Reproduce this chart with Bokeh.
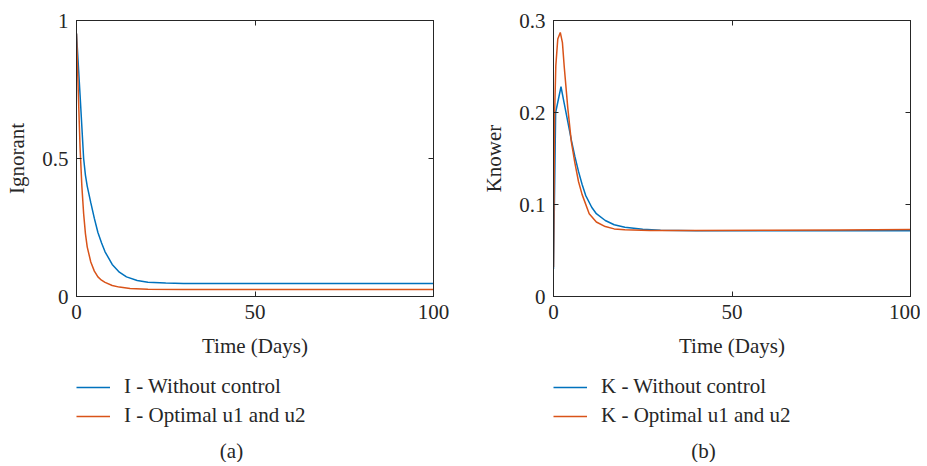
from bokeh.plotting import figure
from bokeh.models import Range1d, FixedTicker, LinearAxis, Legend, LegendItem, Label
from bokeh.layouts import row, column
from bokeh.embed import file_html
from bokeh.resources import INLINE

# ---- data ----
t_I_wo = [0, 1, 2, 2.5, 3, 4, 5, 6, 7, 8, 10, 12, 14, 17, 20, 25, 30, 40, 60, 80, 100]
I_wo = [0.953, 0.73, 0.50, 0.44, 0.40, 0.34, 0.283, 0.232, 0.195, 0.162, 0.116, 0.088, 0.071,
        0.058, 0.052, 0.049, 0.047, 0.047, 0.047, 0.047, 0.047]

t_I_opt = [0, 0.5, 1, 1.5, 2, 2.5, 3, 4, 5, 6, 7, 8, 10, 12, 15, 20, 30, 40, 60, 80, 100]
I_opt = [0.953, 0.74, 0.54, 0.40, 0.30, 0.228, 0.18, 0.125, 0.092, 0.071, 0.059, 0.051, 0.040,
         0.034, 0.029, 0.026, 0.025, 0.025, 0.025, 0.025, 0.025]

t_K_wo = [0, 0.6, 2.1, 3, 4, 5, 6, 7, 8, 9, 10.7, 12, 14.5, 17, 20, 25, 30, 40, 60, 80, 100]
K_wo = [0.03, 0.20, 0.228, 0.21, 0.19, 0.17, 0.152, 0.136, 0.122, 0.11, 0.097, 0.09, 0.0826,
        0.078, 0.0753, 0.073, 0.072, 0.0716, 0.0716, 0.0716, 0.0716]

t_K_opt = [0, 0.3, 0.65, 1.2, 1.9, 2.5, 3, 4, 5, 6, 7, 8, 10, 12, 14.5, 17, 20, 27, 40, 60, 80, 100]
K_opt = [0.032, 0.197, 0.251, 0.28, 0.287, 0.276, 0.25, 0.205, 0.168, 0.145, 0.125, 0.111, 0.09,
         0.081, 0.076, 0.0735, 0.0725, 0.0717, 0.0717, 0.072, 0.0724, 0.0728]

x_ticks = [0, 50, 100]
x_tick_labels = ["0", "50", "100"]
I_ticks = [0, 0.5, 1]
I_tick_labels = ["0", "0.5", "1"]
K_ticks = [0, 0.1, 0.2, 0.3]
K_tick_labels = ["0", "0.1", "0.2", "0.3"]
legend_I = ["I - Without control", "I - Optimal u1 and u2"]
legend_K = ["K - Without control", "K - Optimal u1 and u2"]
captions = ["(a)", "(b)"]
ylabels = ["Ignorant", "Knower"]
xlabel = "Time (Days)"

BLUE = "#0072BD"
RED = "#D95319"
TXT = "#262626"
FONT = "Liberation Serif"
FS = "21px"
LEG_H = 90


def panel(t1, y1, t2, y2, ymax, yticks, ylabels_, ylabel, border_left, border_right):
    p = figure(frame_width=357, frame_height=276, output_backend="svg", toolbar_location=None,
               min_border_left=border_left, min_border_right=border_right,
               min_border_top=20, min_border_bottom=76,
               x_range=Range1d(0, 100), y_range=Range1d(0, ymax))
    p.xgrid.visible = False
    p.ygrid.visible = False
    p.outline_line_color = TXT
    p.outline_line_width = 1
    p.background_fill_color = "white"
    p.border_fill_color = "white"

    p.line(t1, y1, line_color=BLUE, line_width=1.5)
    p.line(t2, y2, line_color=RED, line_width=1.5)

    for ax in p.xaxis:
        ax.ticker = FixedTicker(ticks=x_ticks)
        ax.major_label_overrides = dict(zip(x_ticks, x_tick_labels))
        ax.axis_label = xlabel
        ax.major_label_standoff = 8
        ax.axis_label_standoff = 12
    for ax in p.yaxis:
        ax.ticker = FixedTicker(ticks=yticks)
        ax.major_label_overrides = dict(zip(yticks, ylabels_))
        ax.axis_label = ylabel
        ax.major_label_standoff = 8
        ax.axis_label_standoff = 10
    for ax in p.xaxis + p.yaxis:
        ax.major_tick_in = 5
        ax.major_tick_out = 0
        ax.minor_tick_line_color = None
        ax.axis_line_color = TXT
        ax.major_tick_line_color = TXT
        ax.major_label_text_font = FONT
        ax.major_label_text_font_size = FS
        ax.major_label_text_color = TXT
        ax.axis_label_text_font = FONT
        ax.axis_label_text_font_size = FS
        ax.axis_label_text_font_style = "normal"
        ax.axis_label_text_color = TXT

    # mirrored ticks on the top and right edges (box on)
    for side, tk in (("right", yticks), ("above", x_ticks)):
        a = LinearAxis(ticker=FixedTicker(ticks=tk), major_tick_in=5, major_tick_out=0,
                       minor_tick_line_color=None, major_label_text_font_size="0px",
                       major_label_standoff=0, axis_line_color=TXT, major_tick_line_color=TXT)
        p.add_layout(a, side)
    return p


def legend_strip(t1, y1, t2, y2, labels, caption, width, frame_left, cap_x):
    # strip under each plot holding its legend and caption; the series lines are
    # drawn out of this strip's view so that only their legend samples show
    q = figure(width=width, height=LEG_H, output_backend="svg", toolbar_location=None,
               min_border_left=frame_left, min_border_right=0, min_border_top=0,
               min_border_bottom=0, x_axis_location=None, y_axis_location=None,
               x_range=Range1d(0, 100), y_range=Range1d(5, 6))
    q.xgrid.visible = False
    q.ygrid.visible = False
    q.outline_line_color = None
    q.background_fill_color = "white"
    q.border_fill_color = "white"
    r1 = q.line(t1, y1, line_color=BLUE, line_width=1.5)
    r2 = q.line(t2, y2, line_color=RED, line_width=1.5)
    leg = Legend(items=[LegendItem(label=labels[0], renderers=[r1]),
                        LegendItem(label=labels[1], renderers=[r2])],
                 location="top_left", padding=0, margin=2, spacing=4,
                 glyph_width=34, glyph_height=20, label_standoff=14,
                 label_text_font=FONT, label_text_font_size=FS, label_text_color=TXT,
                 border_line_alpha=0, background_fill_alpha=0)
    q.add_layout(leg, "center")
    q.add_layout(Label(x=cap_x, y=LEG_H - 78, x_units="screen", y_units="screen", text=caption,
                       text_align="center", text_baseline="middle", text_font=FONT,
                       text_font_size=FS, text_color=TXT))
    return q


p1 = panel(t_I_wo, I_wo, t_I_opt, I_opt, 1, I_ticks, I_tick_labels, ylabels[0], 76, 37)
p2 = panel(t_K_wo, K_wo, t_K_opt, K_opt, 0.3, K_ticks, K_tick_labels, ylabels[1], 83, 10)
q1 = legend_strip(t_I_wo, I_wo, t_I_opt, I_opt, legend_I, captions[0], 470, 74, 157)
q2 = legend_strip(t_K_wo, K_wo, t_K_opt, K_opt, legend_K, captions[1], 450, 81, 152)

layout = column(row(p1, p2), row(q1, q2))
open("out.html", "w").write(file_html(layout, INLINE))
